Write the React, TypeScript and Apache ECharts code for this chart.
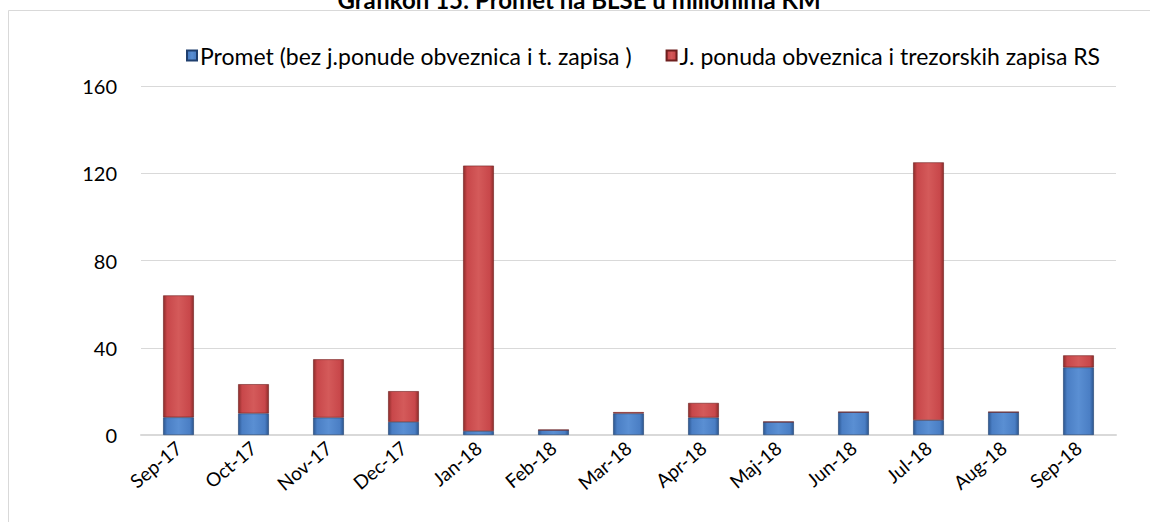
import React, { useEffect, useRef } from "react";
import * as echarts from "echarts";

const categories = ["Sep-17", "Oct-17", "Nov-17", "Dec-17", "Jan-18", "Feb-18", "Mar-18", "Apr-18", "Maj-18", "Jun-18", "Jul-18", "Aug-18", "Sep-18"];
const prometValues = [8.1, 9.9, 8.0, 6.0, 1.8, 2.3, 9.9, 8.0, 6.0, 10.5, 6.8, 10.5, 31.0];
const ponudaValues = [55.9, 13.4, 26.7, 14.1, 121.7, 0, 0.6, 6.7, 0, 0, 118.2, 0, 5.5];
const seriesNames = ["Promet (bez j.ponude obveznica i t. zapisa )", "J. ponuda obveznica i trezorskih zapisa RS"];
const yTicks = { min: 0, max: 160, interval: 40 };
const titleText = "Grafikon 15: Promet na BLSE u milionima KM";

const FONT = "Lato";

function barGradient(dark: string, base: string, light: string) {
  return new echarts.graphic.LinearGradient(0, 0, 1, 0, [
    { offset: 0, color: dark },
    { offset: 0.12, color: base },
    { offset: 0.5, color: light },
    { offset: 0.88, color: base },
    { offset: 1, color: dark },
  ]);
}

export default function App() {
  const ref = useRef<HTMLDivElement>(null);
  useEffect(() => {
    if (!ref.current) return;
    const chart = echarts.init(ref.current, undefined, { renderer: "svg" });
    chart.setOption({
      animation: false,
      backgroundColor: "#ffffff",
      textStyle: { fontFamily: FONT },
      graphic: [
        {
          type: "line",
          shape: { x1: 8.5, y1: 10.5, x2: 1150, y2: 10.5 },
          style: { stroke: "#d9d9d9", lineWidth: 1 },
        },
        {
          type: "line",
          shape: { x1: 8.5, y1: 10.5, x2: 8.5, y2: 522 },
          style: { stroke: "#d9d9d9", lineWidth: 1 },
        },
        {
          type: "text",
          x: 579,
          y: -13,
          style: {
            text: titleText,
            fontFamily: FONT,
            fontWeight: "bold",
            fontSize: 24,
            fill: "#000",
            align: "center",
            verticalAlign: "top",
          },
        },
      ],
      legend: {
        left: 181,
        top: 39,
        itemWidth: 10,
        itemHeight: 10,
        itemGap: 34,
        icon: "rect",
        textStyle: { fontFamily: FONT, fontSize: 23, color: "#000", padding: [0, 0, 0, -2] },
        data: seriesNames,
      },
      grid: { left: 141, right: 34, top: 86, bottom: 87, containLabel: false },
      xAxis: {
        type: "category",
        data: categories,
        axisLine: { lineStyle: { color: "#d9d9d9", width: 2 } },
        axisTick: { show: false },
        axisLabel: { rotate: 40, fontFamily: FONT, fontSize: 19, color: "#000", margin: 10, interval: 0 },
      },
      yAxis: {
        type: "value",
        min: yTicks.min,
        max: yTicks.max,
        interval: yTicks.interval,
        axisLine: { show: false },
        axisTick: { show: false },
        splitLine: { lineStyle: { color: "#d9d9d9", width: 1 } },
        axisLabel: { fontFamily: FONT, fontSize: 20, color: "#000", margin: 24 },
      },
      series: [
        {
          name: seriesNames[0],
          type: "bar",
          stack: "total",
          barWidth: "41%",
          data: prometValues,
          itemStyle: {
            color: barGradient("#2c5690", "#4a7ec4", "#5a8fd3"),
            borderColor: "#1f3f6e",
            borderWidth: 0.6,
          },
        },
        {
          name: seriesNames[1],
          type: "bar",
          stack: "total",
          barWidth: "41%",
          data: ponudaValues,
          itemStyle: {
            color: barGradient("#8e2c2a", "#c8474a", "#d45a5a"),
            borderColor: "#6e1f1e",
            borderWidth: 0.6,
          },
        },
      ],
    });
    return () => chart.dispose();
  }, []);
  return (
    <div
      ref={ref}
      style={{ position: "fixed", left: 0, top: 0, width: 1150, height: 522 }}
    />
  );
}
